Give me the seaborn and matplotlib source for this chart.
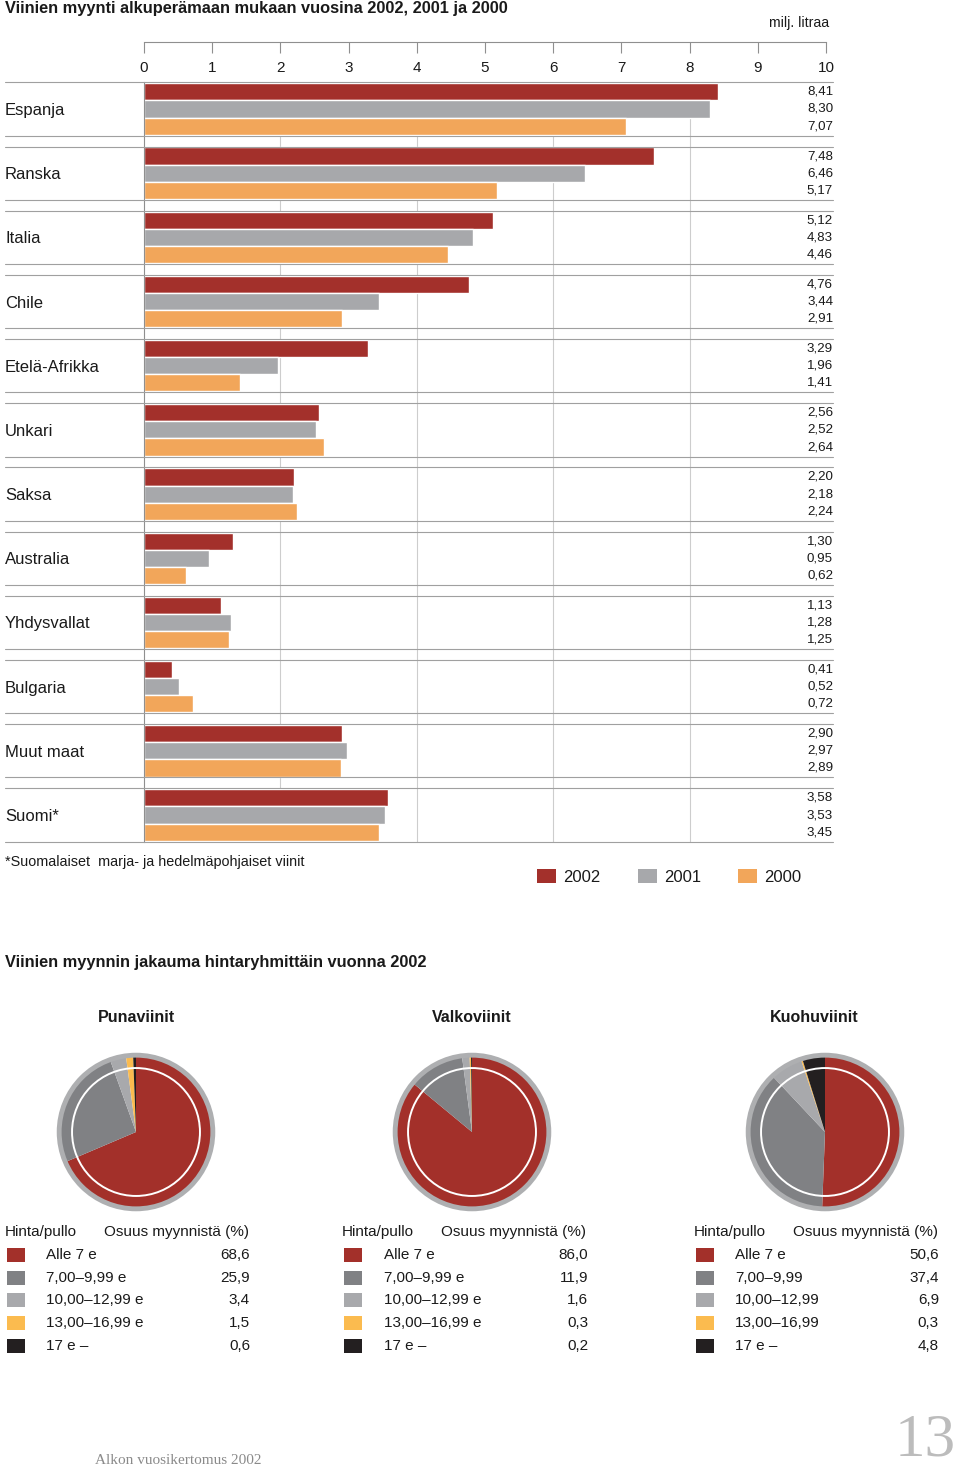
import numpy as np
import pandas as pd
import matplotlib
matplotlib.use('Agg')
import matplotlib.pyplot as plt
from matplotlib.patches import Patch, Rectangle, Circle
import seaborn as sns

# Wine sales by country of origin (million litres)
countries = ['Espanja', 'Ranska', 'Italia', 'Chile', 'Etelä-Afrikka', 'Unkari',
             'Saksa', 'Australia', 'Yhdysvallat', 'Bulgaria', 'Muut maat', 'Suomi*']
sales_2002 = [8.41, 7.48, 5.12, 4.76, 3.29, 2.56, 2.20, 1.30, 1.13, 0.41, 2.90, 3.58]
sales_2001 = [8.30, 6.46, 4.83, 3.44, 1.96, 2.52, 2.18, 0.95, 1.28, 0.52, 2.97, 3.53]
sales_2000 = [7.07, 5.17, 4.46, 2.91, 1.41, 2.64, 2.24, 0.62, 1.25, 0.72, 2.89, 3.45]
years = ['2002', '2001', '2000']
year_colors = ['#a3302b', '#a7a8ab', '#f2a65a']

# Sales share by price group 2002 (%)
pie_titles = ['Punaviinit', 'Valkoviinit', 'Kuohuviinit']
red_groups = ['Alle 7 e', '7,00–9,99 e', '10,00–12,99 e', '13,00–16,99 e', '17 e –']
red_share = [68.6, 25.9, 3.4, 1.5, 0.6]
white_groups = ['Alle 7 e', '7,00–9,99 e', '10,00–12,99 e', '13,00–16,99 e', '17 e –']
white_share = [86.0, 11.9, 1.6, 0.3, 0.2]
spark_groups = ['Alle 7 e', '7,00–9,99', '10,00–12,99', '13,00–16,99', '17 e –']
spark_share = [50.6, 37.4, 6.9, 0.3, 4.8]
price_colors = ['#a3302a', '#808184', '#a8a9ac', '#fbbb4f', '#231f20']

sns.set_theme(style='white')
plt.rcParams['font.family'] = ['Liberation Sans', 'DejaVu Sans']

W, H = 960, 1471
fig = plt.figure(figsize=(W / 100, H / 100), dpi=100)


def fx(px):
    return px / W


def fy(py):
    return 1 - py / H


txt = '#1a1a1a'
line_col = '#8f8f8f'

# ---- bar chart ----
df = pd.DataFrame({
    'country': countries * 3,
    'year': np.repeat(years, len(countries)),
    'value': sales_2002 + sales_2001 + sales_2000,
})

ax_l, ax_r, ax_t, ax_b = 144, 826, 82, 842
ax = fig.add_axes([fx(ax_l), fy(ax_b), (ax_r - ax_l) / W, (ax_b - ax_t) / H])
sns.barplot(data=df, x='value', y='country', hue='year', hue_order=years, order=countries,
            palette=year_colors, orient='h', width=0.8, saturation=1, errorbar=None,
            legend=False, ax=ax, zorder=2)
ax.set_xlim(0, 10)
ax.set_ylim(len(countries) - 1 + 0.42, -0.42)
ax.set_xlabel('')
ax.set_ylabel('')
for s in ['right', 'bottom']:
    ax.spines[s].set_visible(False)
ax.spines['left'].set_color(line_col)
ax.spines['left'].set_linewidth(0.8)
ax.spines['top'].set_color(line_col)
ax.spines['top'].set_linewidth(0.8)
ax.spines['top'].set_position(('outward', 40 * 0.72))
ax.xaxis.set_ticks_position('top')
ax.set_xticks(range(11))
ax.tick_params(axis='x', direction='in', length=8, width=0.8, color=line_col,
               pad=-23.5, labelsize=11, labelcolor=txt)
ax.tick_params(axis='y', length=0, pad=100, labelsize=12, labelcolor=txt)
for lab in ax.get_yticklabels():
    lab.set_ha('left')

for g in [2, 4, 6, 8]:
    ax.axvline(g, color='#cdcdcd', lw=0.8, zorder=1)

trans = ax.get_yaxis_transform()
x0 = (5 - ax_l) / (ax_r - ax_l)
x1 = (833 - ax_l) / (ax_r - ax_l)
for i in range(len(countries)):
    for y in (i - 0.415, i + 0.415):
        ax.plot([x0, x1], [y, y], transform=trans, color='#a0a0a0', lw=0.8,
                clip_on=False, zorder=3)

for cont, vals in zip(ax.containers, [sales_2002, sales_2001, sales_2000]):
    for bar, v in zip(cont, vals):
        ax.text(x1, bar.get_y() + bar.get_height() / 2, f'{v:.2f}'.replace('.', ','),
                transform=trans, ha='right', va='center', fontsize=9.6, color=txt)

fig.text(fx(5), fy(13.5), 'Viinien myynti alkuperämaan mukaan vuosina 2002, 2001 ja 2000',
         fontsize=11.8, fontweight='bold', va='baseline', color=txt)
fig.text(fx(829), fy(27), 'milj. litraa', fontsize=10.2, ha='right', va='baseline', color=txt)
fig.text(fx(5), fy(866), '*Suomalaiset  marja- ja hedelmäpohjaiset viinit', fontsize=10.4,
         va='baseline', color=txt)

handles = [Patch(facecolor=c, edgecolor='none') for c in year_colors]
fig.legend(handles, years, ncol=3, frameon=False, loc='center left',
           bbox_to_anchor=(fx(537), fy(877)), fontsize=12, handlelength=1.14,
           handleheight=0.9, handletextpad=0.42, columnspacing=2.25,
           borderpad=0, borderaxespad=0, labelcolor=txt)

# ---- pies ----
fig.text(fx(5), fy(967), 'Viinien myynnin jakauma hintaryhmittäin vuonna 2002',
         fontsize=11.8, fontweight='bold', va='baseline', color=txt)

pie_cx = [136, 472, 825]
title_x = [136, 472, 814]
pie_cy = 1132
R = 78
k = 1.06
for cx, tx, title, shares in zip(pie_cx, title_x, pie_titles, [red_share, white_share, spark_share]):
    pax = fig.add_axes([fx(cx - R * k), fy(pie_cy + R * k), 2 * R * k / W, 2 * R * k / H])
    pax.pie(shares, colors=price_colors, startangle=90, counterclock=False,
            wedgeprops=dict(linewidth=0))
    pax.add_patch(Circle((0, 0), 0.985, fill=False, ec='#aeafb1', lw=3.5))
    pax.add_patch(Circle((0, 0), 0.82, fill=False, ec='white', lw=1.4))
    pax.set_xlim(-k, k)
    pax.set_ylim(-k, k)
    pax.set_aspect('equal')
    pax.axis('off')
    fig.text(fx(tx), fy(1022), title, fontsize=11.5, fontweight='bold', ha='center',
             va='baseline', color=txt)

# ---- tables ----
table_x = [5, 342, 694]
label_x = [46, 384, 735]
value_x = [250, 588, 939]
row_y = [1259, 1281.7, 1304.4, 1327.1, 1349.8]
for tx, lx, vx, groups, shares in zip(table_x, label_x, value_x,
                                      [red_groups, white_groups, spark_groups],
                                      [red_share, white_share, spark_share]):
    fig.text(fx(tx), fy(1236), 'Hinta/pullo', fontsize=11, va='baseline', color=txt)
    fig.text(fx(tx + 99), fy(1236), 'Osuus myynnistä (%)', fontsize=11, va='baseline', color=txt)
    for y, grp, val, col in zip(row_y, groups, shares, price_colors):
        fig.add_artist(Rectangle((fx(tx + 2), fy(y + 3)), 18 / W, 14 / H,
                                 transform=fig.transFigure, facecolor=col, edgecolor='none'))
        fig.text(fx(lx), fy(y), grp, fontsize=11, va='baseline', color=txt)
        fig.text(fx(vx), fy(y), f'{val:.1f}'.replace('.', ','), fontsize=11, ha='right',
                 va='baseline', color=txt)

# ---- footer ----
fig.text(fx(95), fy(1464), 'Alkon vuosikertomus 2002', fontsize=11, va='baseline',
         color='#8a8a8a', family=['Liberation Serif', 'DejaVu Serif'])
fig.text(fx(956), fy(1456), '13', fontsize=44, ha='right', va='baseline',
         color='#bcbcbc', family=['Liberation Serif', 'DejaVu Serif'])

fig.savefig('out.png', dpi=100, facecolor='white')
